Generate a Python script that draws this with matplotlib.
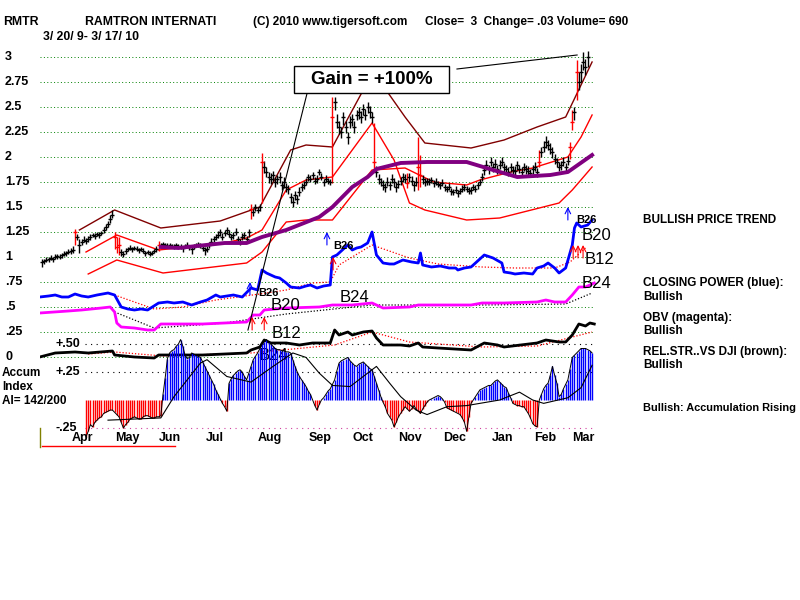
import numpy as np
import matplotlib.pyplot as plt
from matplotlib.patches import Rectangle
from matplotlib.transforms import blended_transform_factory

plt.rcParams['font.family'] = ['Liberation Sans', 'DejaVu Sans']

# daily closes, trading day 0 = 3/20/09 ... 248 = 3/17/10
close = [0.95, 0.96, 0.97, 0.98, 0.99, 0.98, 1.00, 1.01, 1.00, 1.02, 1.03, 1.04, 1.05, 1.06, 1.07,
         1.25, 1.20, 1.12, 1.15, 1.17, 1.16, 1.18,
         1.20, 1.22, 1.21, 1.23, 1.22, 1.24, 1.27, 1.30, 1.33, 1.38, 1.42,
         1.20, 1.10, 1.12, 1.05, 1.03, 1.06,
         1.08, 1.09, 1.08, 1.09, 1.08, 1.07, 1.08, 1.06, 1.04, 1.05, 1.03,
         1.04, 1.06, 1.08, 1.12,
         1.12, 1.13, 1.12, 1.11, 1.12, 1.11, 1.10, 1.12, 1.11, 1.10, 1.09, 1.11, 1.12, 1.10, 1.08, 1.10, 1.12, 1.13, 1.11, 1.09, 1.07,
         1.08, 1.12, 1.15, 1.18, 1.20,
         1.22, 1.25, 1.20, 1.24, 1.27, 1.23, 1.20, 1.22, 1.25, 1.18, 1.15, 1.20, 1.22, 1.18, 1.25,
         1.48, 1.45, 1.50, 1.47, 1.50,
         1.95, 1.90, 1.85, 1.80, 1.78, 1.82, 1.75, 1.78, 1.80, 1.72, 1.75, 1.70, 1.68,
         1.60, 1.55, 1.62, 1.58, 1.65, 1.70, 1.72,
         1.75, 1.80, 1.78, 1.82, 1.76, 1.78, 1.85, 1.80, 1.75, 1.78, 1.76, 1.75,
         2.40, 2.55, 2.35, 2.30, 2.25, 2.40, 2.30, 2.20, 2.35, 2.38, 2.30, 2.42, 2.45, 2.40, 2.48, 2.42, 2.50, 2.45, 2.40,
         1.95, 1.85, 1.78, 1.75, 1.72, 1.70, 1.75, 1.72, 1.78, 1.75, 1.70, 1.73, 1.76,
         1.80, 1.78, 1.74, 1.80, 1.76, 1.72, 1.75, 1.90, 1.82, 1.78, 1.75,
         1.76, 1.75, 1.77, 1.74, 1.75, 1.73, 1.72, 1.74, 1.70, 1.68, 1.70, 1.66, 1.65, 1.67, 1.64, 1.66, 1.68, 1.70, 1.68, 1.66, 1.67, 1.70, 1.68, 1.72, 1.75,
         1.80, 1.87, 1.92, 1.88, 1.95, 1.90, 1.93, 1.88, 1.92, 1.95, 1.90,
         1.88, 1.85, 1.90, 1.87, 1.86, 1.92, 1.88, 1.85, 1.90, 1.88, 1.86, 1.84, 1.88, 1.90, 1.85,
         1.95, 2.05, 2.10, 2.15, 2.12, 2.08, 2.05,
         1.98, 1.95, 1.90, 1.92, 1.95, 1.90, 1.96,
         2.10, 2.35, 2.45, 2.85, 2.75, 2.85, 2.95, 2.90, 3.00]
# high above close / low below close, in cents
up_c = [3, 2, 3, 2, 3, 2, 3, 2, 3, 2, 3, 2, 3, 3, 4,
        3, 3, 6, 3, 4, 3, 3,
        3, 2, 3, 2, 3, 2, 3, 3, 3, 4, 5,
        5, 10, 8, 3, 3, 3,
        2, 3, 2, 2, 3, 2, 2, 3, 2, 2, 3,
        2, 2, 3, 4,
        2, 2, 2, 3, 2, 2, 3, 2, 2, 3, 2, 2, 3, 2, 2, 3, 2, 2, 3, 2, 3,
        3, 3, 4, 3, 3,
        4, 3, 4, 3, 3, 4, 3, 3, 4, 3, 3, 4, 3, 3, 3,
        5, 4, 3, 3, 3,
        9, 6, 5, 5, 6, 4, 5, 4, 5, 4, 5, 4, 4,
        4, 5, 4, 4, 5, 4, 4,
        4, 3, 4, 3, 4, 4, 3, 4, 3, 4, 3, 3,
        20, 5, 8, 6, 5, 5, 6, 5, 6, 5, 6, 5, 5, 6, 5, 6, 5, 6, 5,
        39, 6, 5, 4, 5, 4, 5, 4, 5, 4, 5, 4, 4,
        4, 5, 10, 4, 5, 4, 5, 30, 20, 4, 4,
        3, 4, 3, 3, 4, 3, 3, 4, 3, 3, 4, 3, 3, 4, 3, 3, 4, 3, 3, 4, 3, 3, 4, 3, 3,
        4, 5, 5, 4, 5, 4, 5, 4, 5, 5, 4,
        4, 5, 4, 4, 5, 4, 4, 5, 4, 4, 5, 4, 4, 5, 4,
        12, 5, 6, 6, 5, 6, 5,
        5, 4, 5, 4, 5, 4, 5,
        5, 12, 5, 12, 10, 8, 10, 8, 6]
dn_c = [5, 3, 2, 3, 2, 3, 2, 3, 2, 3, 2, 3, 2, 3, 3,
        13, 3, 8, 3, 2, 3, 3,
        3, 2, 3, 2, 3, 2, 3, 3, 3, 4, 3,
        12, 6, 10, 4, 3, 3,
        2, 2, 3, 2, 2, 3, 2, 2, 3, 2, 2,
        2, 2, 3, 6,
        2, 3, 2, 2, 3, 2, 2, 3, 2, 2, 4, 2, 2, 3, 5, 2, 2, 3, 2, 3, 5,
        3, 3, 3, 3, 3,
        3, 4, 3, 3, 4, 3, 3, 4, 3, 4, 3, 3, 4, 3, 5,
        10, 4, 4, 3, 4,
        41, 6, 5, 6, 5, 6, 5, 5, 6, 5, 6, 5, 5,
        6, 5, 5, 5, 4, 4, 4,
        3, 4, 3, 4, 3, 4, 3, 3, 4, 3, 3, 3,
        66, 8, 6, 7, 6, 8, 6, 7, 6, 7, 6, 5, 7, 6, 6, 5, 6, 6, 6,
        8, 5, 5, 4, 5, 5, 4, 5, 4, 5, 5, 4, 4,
        5, 4, 5, 5, 4, 6, 4, 23, 12, 5, 4,
        4, 3, 3, 4, 3, 3, 4, 3, 4, 3, 3, 4, 3, 3, 4, 3, 3, 4, 3, 3, 4, 3, 3, 4, 3,
        4, 5, 4, 5, 4, 5, 4, 5, 4, 4, 5,
        5, 4, 5, 4, 4, 5, 4, 5, 4, 5, 4, 4, 5, 4, 5,
        5, 5, 5, 6, 5, 5, 6,
        5, 5, 4, 5, 4, 5, 4,
        12, 8, 8, 28, 8, 10, 8, 8, 10]
red_days = [15, 33, 34, 35, 53, 95, 100, 132, 151, 166, 171, 172, 226, 240, 241, 243]

# bands and moving average (day, value)
upper_d = [17, 33, 54, 81, 99, 113, 120, 132, 146, 152, 157, 165, 174, 195, 210, 225, 238, 250]
upper_v = [1.27, 1.47, 1.29, 1.36, 1.50, 2.07, 2.12, 2.10, 2.67, 2.80, 2.65, 2.40, 2.14, 2.09, 2.17, 2.30, 2.40, 2.95]
redx_d = [20, 34, 53, 83, 93, 100, 111, 120, 132, 140, 150, 160, 167, 174, 193, 208, 235, 241, 250]
redx_v = [1.05, 1.22, 1.07, 1.14, 1.19, 1.27, 1.67, 1.77, 1.80, 2.04, 2.34, 1.97, 1.54, 1.47, 1.37, 1.39, 1.54, 1.67, 1.90]
redy_d = [21, 34, 55, 93, 100, 111, 120, 132, 150, 165, 178, 193, 199, 213, 223, 239, 245, 250]
redy_v = [0.83, 0.97, 0.84, 0.94, 1.05, 1.35, 1.37, 1.37, 1.87, 1.89, 1.75, 1.72, 1.77, 1.85, 1.89, 2.00, 2.20, 2.42]
ma_d = [54, 62, 83, 93, 100, 111, 126, 132, 141, 148, 152, 163, 175, 193, 205, 216, 231, 239, 250]
ma_v = [1.10, 1.09, 1.14, 1.14, 1.20, 1.27, 1.40, 1.50, 1.70, 1.80, 1.88, 1.94, 1.95, 1.95, 1.87, 1.80, 1.82, 1.85, 2.02]

# closing power (blue) and its average
cp_d = [-1, 3, 6, 9, 12, 15, 18, 21, 25, 30, 33, 36, 39, 42, 45, 48, 53, 57, 60, 64, 68, 72, 75, 79, 81, 84, 87,
        91, 95, 98, 100, 102, 104, 106, 108, 111, 113, 117, 120, 122, 125, 128, 131, 132, 134, 136, 139, 141, 143,
        145, 148, 150, 152, 155, 158, 160, 164, 168, 171, 172, 173, 177, 181, 185, 188, 189, 192, 195, 198, 201,
        205, 209, 210, 213, 215, 219, 223, 225, 228, 230, 233, 235, 238, 241, 242, 243, 245, 248, 250]
cp_v = [0.60, 0.61, 0.62, 0.60, 0.60, 0.63, 0.61, 0.60, 0.62, 0.64, 0.62, 0.50, 0.48, 0.47, 0.48, 0.47, 0.54, 0.55,
        0.54, 0.55, 0.52, 0.55, 0.57, 0.62, 0.60, 0.61, 0.62, 0.60, 0.69, 0.67, 0.87, 0.84, 0.82, 0.80, 0.79, 0.74,
        0.70, 0.69, 0.71, 0.72, 0.69, 0.71, 0.72, 1.00, 1.02, 1.06, 1.12, 1.07, 1.09, 1.10, 1.14, 1.25, 1.02, 0.94,
        0.93, 0.93, 0.97, 0.95, 0.94, 1.04, 0.92, 0.90, 0.91, 0.89, 0.89, 0.87, 0.89, 0.90, 0.96, 1.02, 0.99, 0.94,
        0.85, 0.84, 0.83, 0.84, 0.83, 0.89, 0.91, 0.94, 0.89, 0.84, 0.89, 1.12, 1.29, 1.34, 1.30, 1.32, 1.37]
cpma_d = [33, 51, 64, 79, 99, 111, 123, 131, 135, 150, 167, 180, 200, 215, 233, 240, 247]
cpma_v = [0.62, 0.48, 0.50, 0.57, 0.63, 0.67, 0.74, 0.75, 0.92, 1.12, 0.99, 0.93, 0.90, 0.89, 0.89, 0.95, 1.09]

# OBV (magenta) and its average
obv_d = [-1, 12, 18, 27, 31, 33, 34, 36, 42, 48, 51, 54, 65, 73, 83, 93, 96, 99, 101, 111, 126, 132, 141, 150,
         155, 167, 171, 180, 195, 200, 210, 225, 229, 233, 238, 241, 244, 247, 251]
obv_v = [0.44, 0.46, 0.47, 0.49, 0.50, 0.45, 0.34, 0.30, 0.29, 0.27, 0.27, 0.33, 0.33, 0.33, 0.34, 0.35, 0.42,
         0.42, 0.47, 0.49, 0.50, 0.52, 0.52, 0.54, 0.49, 0.50, 0.52, 0.52, 0.52, 0.54, 0.54, 0.55, 0.57, 0.55,
         0.55, 0.62, 0.70, 0.70, 0.74]
obvma_d = [33, 51, 83, 111, 150, 200, 238, 250]
obvma_v = [0.45, 0.29, 0.34, 0.43, 0.52, 0.52, 0.53, 0.64]

# relative strength vs DJI (black) and its average
rs_d = [-1, 6, 15, 21, 32, 33, 42, 51, 53, 73, 83, 93, 95, 99, 101, 104, 111, 117, 123, 131, 133, 135, 139,
        141, 146, 150, 152, 155, 163, 167, 171, 173, 180, 195, 201, 207, 210, 225, 229, 235, 238, 241, 244,
        247, 249, 251]
rs_v = [0.00, 0.04, 0.05, 0.04, 0.06, 0.02, 0.00, -0.01, 0.02, 0.02, 0.03, 0.04, 0.07, 0.10, 0.17, 0.14, 0.14,
        0.12, 0.14, 0.14, 0.27, 0.22, 0.25, 0.22, 0.25, 0.26, 0.19, 0.12, 0.12, 0.11, 0.14, 0.10, 0.09, 0.07,
        0.14, 0.12, 0.10, 0.14, 0.17, 0.15, 0.15, 0.22, 0.33, 0.31, 0.34, 0.33]
rsma_d = [21, 33, 55, 95, 133, 150, 167, 200, 225, 250]
rsma_v = [0.03, 0.05, 0.01, 0.04, 0.12, 0.25, 0.15, 0.10, 0.11, 0.25]

# accumulation index, days 20..250, in hundredths
ai_start = 20
ai_raw = [-33, -28, -22, -24, -20, -18, -16, -15, -12, -11,
          -10, -9, -9, -11, -13, -15, -20, -25, -22, -20,
          -17, -16, -15, -16, -17, -17, -15, -14, -14, -15,
          -16, -16, -15, -15, -14, 5, 20, 37, 42, 44,
          45, 48, 50, 54, 48, 40, 37, 38, 42, 41,
          40, 39, 38, 34, 30, 26, 22, 18, 14, 9,
          5, 1, -3, -6, -10, 15, 19, 22, 24, 26,
          27, 25, 21, 18, 24, 30, 36, 39, 42, 46,
          50, 52, 54, 52, 50, 48, 46, 45, 45, 44,
          44, 43, 43, 42, 36, 30, 25, 21, 18, 15,
          12, 8, 5, 0, -5, -9, -4, 0, 2, 5,
          8, 10, 14, 18, 26, 33, 35, 36, 37, 38,
          35, 33, 31, 30, 32, 33, 34, 32, 30, 28,
          27, 21, 15, 9, 3, -2, -6, -12, -15, -18,
          -24, -20, -15, -12, -9, -6, -8, -10, -8, -5,
          -8, -10, -12, -8, -5, -2, 0, 1, 2, 3,
          4, 3, 1, -2, -7, -8, -9, -10, -11, -12,
          -13, -16, -20, -28, -15, -3, 0, 3, 6, 9,
          10, 11, 12, 13, 13, 15, 17, 18, 16, 14,
          12, 11, 6, 2, -3, -4, -5, -5, -6, -6,
          -9, -12, -16, -21, -23, -24, 0, 5, 10, 13,
          15, 22, 30, 22, 15, 3, 5, 10, 14, 18,
          28, 38, 40, 42, 44, 46, 46, 46, 45, 44,
          42]
aima_d = [30, 54, 60, 72, 75, 84, 95, 105, 114, 120, 126, 132, 140, 148, 152, 158, 163, 170, 175, 184, 193,
          208, 217, 223, 228, 239, 245, 250]
aima_v = [-0.18, -0.16, 0.03, 0.33, 0.36, 0.21, 0.16, 0.30, 0.42, 0.38, 0.24, 0.13, 0.12, 0.24, 0.30, 0.15,
          0.03, -0.09, -0.13, -0.06, -0.05, 0.00, 0.07, 0.00, -0.03, 0.02, 0.11, 0.31]

price_ticks = [3, 2.75, 2.5, 2.25, 2, 1.75, 1.5, 1.25, 1, 0.75, 0.5, 0.25, 0]
price_labels = ['3', '2.75', '2.5', '2.25', '2', '1.75', '1.5', '1.25', '1', '.75', '.5', '.25', '0']
ai_ticks = [0.5, 0.25, -0.25]
ai_labels = ['+.50', '+.25', '-.25']
months = ['Apr', 'May', 'Jun', 'Jul', 'Aug', 'Sep', 'Oct', 'Nov', 'Dec', 'Jan', 'Feb', 'Mar']
month_pos = [18.6, 38.6, 58.2, 78.6, 103.6, 126.4, 145.9, 167.3, 187.7, 209.5, 228.6, 245.9]

AI0, AISC = -0.43, 1.12   # accumulation index panel placed below the price scale

fig = plt.figure(figsize=(8, 6), dpi=100)
ax = fig.add_axes([40 / 800, 155 / 600, 560 / 800, 400 / 600])
ax.set_xlim(-0.91, 253.6)
ax.set_ylim(-0.88, 3.12)
ax.axis('off')
figy = blended_transform_factory(fig.transFigure, ax.transData)

# grid
for v in price_ticks:
    ax.axhline(v, xmin=0, xmax=0.99, color='#008000', lw=0.7, ls=(0, (1, 2.5)), zorder=1)
for a in [0.5, 0.25]:
    ax.axhline(AI0 + AISC * a, xmin=0.08, xmax=0.99, color='black', lw=0.8, ls=(0, (1, 4)), zorder=1)
ax.axhline(AI0 + AISC * -0.25, xmin=0.08, xmax=0.99, color='#d040a0', lw=0.8, ls=(0, (1, 4)), zorder=1)

# bands
ax.plot(upper_d, upper_v, color='#800000', lw=1, zorder=2)
ax.plot(redx_d, redx_v, color='red', lw=1, zorder=2)
ax.plot(redy_d, redy_v, color='red', lw=1, zorder=2)

# price bars
close = np.array(close)
x = np.arange(len(close))
hi = close + np.array(up_c) / 100
lo = close - np.array(dn_c) / 100
cols = ['red' if i in red_days else 'black' for i in x]
ax.vlines(x, lo, hi, colors=cols, lw=1, zorder=3)
ax.hlines(close, x - 0.9, x + 0.9, colors=cols, lw=1, zorder=3)

ax.plot(ma_d, ma_v, color='#800080', lw=2.8, zorder=4)

# indicators
ax.plot(cpma_d, cpma_v, color='red', lw=0.9, ls=(0, (1, 1.5)), zorder=2)
ax.plot(cp_d, cp_v, color='blue', lw=2, zorder=3)
ax.plot(obvma_d, obvma_v, color='black', lw=0.9, ls=(0, (1, 1.5)), zorder=2)
ax.plot(obv_d, obv_v, color='#ff00ff', lw=2, zorder=3)
ax.plot(rsma_d, rsma_v, color='red', lw=0.9, ls=(0, (1, 1.5)), zorder=2)
ax.plot(rs_d, rs_v, color='black', lw=2, zorder=3)

# accumulation index histogram
ai = np.array(ai_raw) / 100
ai_x = np.arange(ai_start, ai_start + len(ai))
ai_y = AI0 + AISC * ai
ax.vlines(ai_x, AI0, ai_y, colors=np.where(ai > 0, 'blue', 'red'), lw=1, zorder=3)
ax.plot(ai_x, ai_y, color='black', lw=0.7, zorder=4)
ax.plot(aima_d, AI0 + AISC * np.array(aima_v), color='black', lw=0.8, zorder=4)

# signal labels and arrows
ax.text(105, 0.02, 'B24', fontsize=12, ha='center', va='center', zorder=2.5)
ax.text(111, 0.24, 'B12', fontsize=12, ha='center', va='center', zorder=5)
ax.text(110.5, 0.52, 'B20', fontsize=12, ha='center', va='center', zorder=5)
ax.text(142, 0.60, 'B24', fontsize=12, ha='center', va='center', zorder=5)
ax.text(103, 0.64, 'B26', fontsize=8, weight='bold', ha='center', va='center', zorder=5)
ax.text(137, 1.11, 'B26', fontsize=8, weight='bold', ha='center', va='center', zorder=5)
ax.text(247.5, 1.37, 'B26', fontsize=8, weight='bold', ha='center', va='center', zorder=5, clip_on=False)
ax.text(252, 1.22, 'B20', fontsize=12, ha='center', va='center', zorder=5, clip_on=False)
ax.text(253.5, 0.97, 'B12', fontsize=12, ha='center', va='center', zorder=5, clip_on=False)
ax.text(252, 0.74, 'B24', fontsize=12, ha='center', va='center', zorder=5, clip_on=False)

blue_arrows = [(129.5, 1.12), (94.5, 0.62), (239, 1.37)]
red_arrows = [(132.3, 0.87), (95.5, 0.27), (101, 0.27), (241.4, 0.99), (243.6, 0.99), (245.9, 0.99)]
for d, v in blue_arrows:
    ax.annotate('', xy=(d, v + 0.13), xytext=(d, v),
                arrowprops=dict(arrowstyle='->', color='blue', lw=0.8, shrinkA=0, shrinkB=0), zorder=5)
for d, v in red_arrows:
    ax.annotate('', xy=(d, v + 0.13), xytext=(d, v),
                arrowprops=dict(arrowstyle='->', color='red', lw=0.8, shrinkA=0, shrinkB=0), zorder=5)

# gain box
ax.plot([120.5, 93.6], [2.64, 0.27], color='black', lw=0.8, zorder=5)
ax.plot([188.6, 243.2], [2.88, 3.02], color='black', lw=0.8, zorder=5)
ax.add_patch(Rectangle((114.5, 2.64), 70.5, 0.27, facecolor='white', edgecolor='black', lw=1, zorder=9))
ax.text(149.8, 2.775, 'Gain = +100%', fontsize=13.5, weight='bold', ha='center', va='center', zorder=10)

# axis labels
for v, s in zip(price_ticks, price_labels):
    ax.text(5 / 800, v, s, transform=figy, fontsize=9, weight='bold', va='center')
for a, s in zip(ai_ticks, ai_labels):
    ax.text(55 / 800, AI0 + AISC * a, s, transform=figy, fontsize=9, weight='bold', va='center')
for p, m in zip(month_pos, months):
    ax.text(p, -0.81, m, fontsize=9, weight='bold', ha='center', va='center', clip_on=False)

# header and side notes
def ftext(px, py, s, size=8.5, **kw):
    fig.text(px / 800, 1 - py / 600, s, fontsize=size, weight='bold', va='center', **kw)

ftext(3, 22, 'RMTR', 8.8)
ftext(85, 22, 'RAMTRON INTERNATI', 8.8)
ftext(253, 22, '(C) 2010 www.tigersoft.com')
ftext(425, 22, 'Close=  3  Change= .03 Volume= 690')
ftext(43, 37, '3/ 20/ 9- 3/ 17/ 10', 8.8)
ftext(2, 373, 'Accum')
ftext(2, 387, 'Index')
ftext(2, 401, 'AI= 142/200')
ftext(643, 220, 'BULLISH PRICE TREND')
ftext(643, 283, 'CLOSING POWER (blue):')
ftext(643, 297, 'Bullish')
ftext(643, 318, 'OBV (magenta):')
ftext(643, 331, 'Bullish')
ftext(643, 352, 'REL.STR..VS DJI (brown):')
ftext(643, 365, 'Bullish')
ftext(643, 408, 'Bullish: Accumulation Rising', 7.9)

fig.add_artist(plt.Line2D([40 / 800, 40 / 800], [1 - 428 / 600, 1 - 447 / 600], color='#808000', lw=1))
fig.add_artist(plt.Line2D([42 / 800, 175 / 800], [1 - 446 / 600, 1 - 446 / 600], color='red', lw=1))

fig.savefig('out.png', dpi=100)
